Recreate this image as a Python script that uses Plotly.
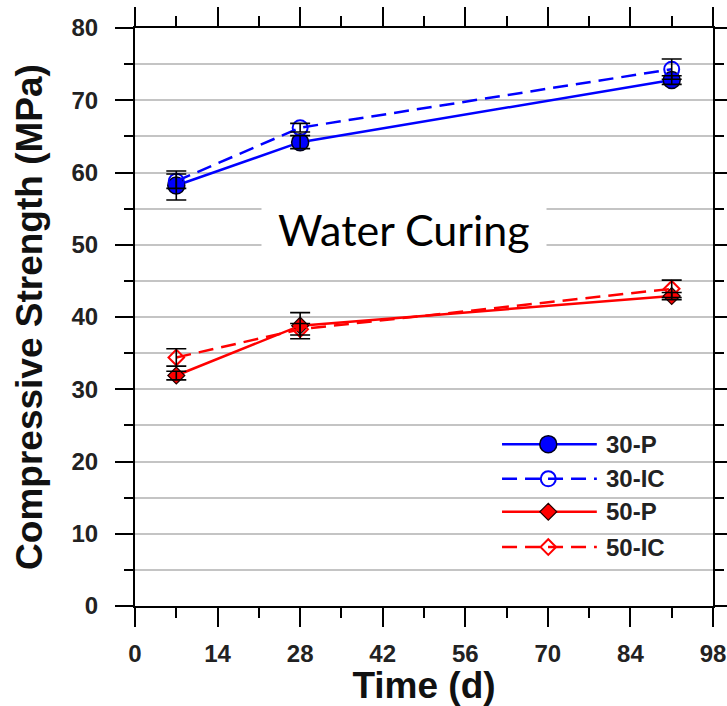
import plotly.graph_objects as go

# ---- data ----
days = [7, 28, 91]
series_names = ["30-P", "30-IC", "50-P", "50-IC"]
p30_vals = [58.2, 64.2, 72.8]
p30_err = [2.0, 0.9, 0.6]
ic30_vals = [58.8, 66.2, 74.3]
ic30_err = [1.0, 0.6, 1.4]
p50_vals = [31.9, 38.8, 42.9]
p50_err = [0.6, 1.8, 0.5]
ic50_vals = [34.4, 38.3, 43.9]
ic50_err = [1.2, 0.8, 1.2]

x_ticks = [0, 14, 28, 42, 56, 70, 84, 98]
y_ticks = [0, 10, 20, 30, 40, 50, 60, 70, 80]

BLUE = "#0000ff"
RED = "#ff0000"
styles = [
    dict(color=BLUE, dash="solid", symbol="circle", size=17, fill=BLUE, lc="#00001a", lw=1.5),
    dict(color=BLUE, dash="15px,8px", symbol="circle-open", size=15, fill=BLUE, lc=BLUE, lw=2),
    dict(color=RED, dash="solid", symbol="diamond", size=13, fill=RED, lc="#220000", lw=1.2),
    dict(color=RED, dash="15px,8px", symbol="diamond-open", size=12, fill=RED, lc=RED, lw=2),
]
vals = [p30_vals, ic30_vals, p50_vals, ic50_vals]
errs = [p30_err, ic30_err, p50_err, ic50_err]

fig = go.Figure()

for name, v, st in zip(series_names, vals, styles):
    fig.add_trace(go.Scatter(
        x=days, y=v, name=name, mode="lines+markers",
        line=dict(color=st["color"], width=2.5, dash=st["dash"]),
        marker=dict(symbol=st["symbol"], size=st["size"], color=st["fill"],
                    line=dict(color=st["lc"], width=st["lw"])),
        showlegend=False, cliponaxis=False,
    ))

# error bars on top of markers
for v, e in zip(vals, errs):
    fig.add_trace(go.Scatter(
        x=days, y=v, mode="markers",
        marker=dict(size=1, color="rgba(0,0,0,0)"),
        error_y=dict(type="data", array=e, visible=True, color="black",
                     thickness=1.6, width=10),
        showlegend=False, hoverinfo="skip",
    ))

# custom legend on an overlay axis with range 0..1
leg_y = [0.280, 0.220, 0.163, 0.102]
leg_x0, leg_xm, leg_x1, leg_tx = 0.635, 0.715, 0.799, 0.811
for name, st, ly in zip(series_names, styles, leg_y):
    fig.add_trace(go.Scatter(
        x=[leg_x0, leg_x1], y=[ly, ly], mode="lines",
        line=dict(color=st["color"], width=2.5, dash=st["dash"]),
        xaxis="x2", yaxis="y2", showlegend=False, hoverinfo="skip",
    ))
    fig.add_trace(go.Scatter(
        x=[leg_xm], y=[ly], mode="markers",
        marker=dict(symbol=st["symbol"], size=st["size"], color=st["fill"],
                    line=dict(color=st["lc"], width=st["lw"])),
        xaxis="x2", yaxis="y2", showlegend=False, hoverinfo="skip",
    ))
    fig.add_annotation(x=leg_tx, y=ly, xref="x2", yref="y2", text=name,
                       showarrow=False, xanchor="left", yanchor="middle",
                       font=dict(family="Liberation Sans, Arial", size=24,
                                 color="#222222", weight="bold"))

fig.add_annotation(x=0.465, y=0.652, xref="paper", yref="paper",
                   text="Water Curing", showarrow=False,
                   font=dict(family="Lato, Open Sans", size=43, color="black"),
                   bgcolor="white", borderpad=16)

tickfont = dict(family="Liberation Sans, Arial", size=24, color="#222222", weight="bold")
titlefont = dict(family="Liberation Sans, Arial", size=37, color="#111111", weight="bold")

fig.update_layout(
    width=727, height=706,
    margin=dict(l=135, r=14, t=28, b=100, autoexpand=False),
    paper_bgcolor="white", plot_bgcolor="white",
    showlegend=False,
    xaxis=dict(
        range=[0, 98], tickvals=x_ticks, ticks="outside", ticklen=19, tickwidth=2,
        tickcolor="black", showline=True, linecolor="black", linewidth=2,
        mirror="ticks", showgrid=False, zeroline=False, tickfont=tickfont,
        automargin=False, ticklabelstandoff=6,
        minor=dict(dtick=7, tick0=0, ticks="outside", ticklen=10, tickwidth=2,
                   tickcolor="black", showgrid=False),
        title=dict(text="Time (d)", font=titlefont, standoff=1),
    ),
    yaxis=dict(
        range=[0, 80], tickvals=y_ticks, ticks="outside", ticklen=18, tickwidth=2,
        tickcolor="black", showline=True, linecolor="black", linewidth=2,
        mirror="ticks", showgrid=True, gridcolor="#c4c4c4", gridwidth=2,
        zeroline=False, tickfont=tickfont, automargin=False, ticklabelstandoff=12,
        minor=dict(dtick=5, tick0=0, ticks="outside", ticklen=9, tickwidth=2,
                   tickcolor="black", showgrid=True, gridcolor="#c4c4c4", gridwidth=2),
        title=dict(text="Compressive Strength (MPa)", font=titlefont, standoff=18),
    ),
    xaxis2=dict(range=[0, 1], overlaying="x", visible=False, fixedrange=True),
    yaxis2=dict(range=[0, 1], overlaying="y", visible=False, fixedrange=True),
)

fig.write_html("out.html")
